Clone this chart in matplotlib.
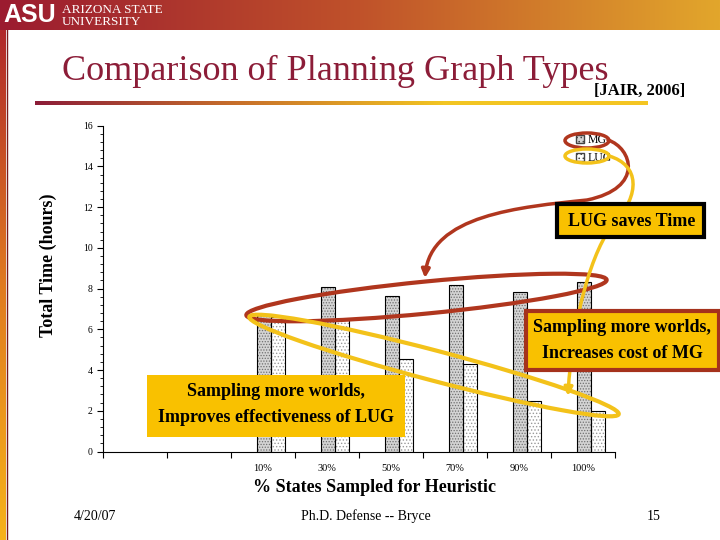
import numpy as np
import matplotlib
matplotlib.use('Agg')
import matplotlib.pyplot as plt
from matplotlib.patches import Ellipse, Rectangle, Patch, FancyArrowPatch
from matplotlib.path import Path
from matplotlib.colors import LinearSegmentedColormap
from matplotlib.ticker import MultipleLocator, FixedLocator

# data
categories = ['10%', '30%', '50%', '70%', '90%', '100%']
mg_time = [6.75, 8.1, 7.65, 8.2, 7.85, 8.3]
lug_time = [6.6, 6.45, 4.55, 4.3, 2.5, 2.0]

RED = '#b0361e'
YEL = '#f3c21a'
BOX = '#f9c100'
MAROON = '#8c1d38'

plt.rcParams['font.family'] = ['Liberation Serif', 'DejaVu Serif']
plt.rcParams['hatch.linewidth'] = 0.6

fig = plt.figure(figsize=(7.2, 5.4), dpi=100)
fig.patch.set_facecolor('white')

# chart axes (pixel box 103..615 x 126..451)
ax = fig.add_axes([103/720, 1-451.5/540, 512/720, 325.8/540])
x = np.arange(len(categories))
ax.bar(x + 0.51, mg_time, 0.22, color='#d4d4d4', hatch='......', edgecolor='#707070', linewidth=0, zorder=2)
ax.bar(x + 0.51, mg_time, 0.22, fill=False, edgecolor='black', linewidth=0.8, zorder=3)
ax.bar(x + 0.735, lug_time, 0.21, color='white', hatch='.....', edgecolor='#9a9a9a', linewidth=0, zorder=2)
ax.bar(x + 0.735, lug_time, 0.21, fill=False, edgecolor='black', linewidth=0.8, zorder=3)

ax.set_xlim(-2, len(categories))
ax.set_ylim(0, 16)
ax.spines['top'].set_visible(False)
ax.spines['right'].set_visible(False)
ax.yaxis.set_major_locator(MultipleLocator(2))
ax.yaxis.set_minor_locator(MultipleLocator(0.4))
ax.xaxis.set_major_locator(FixedLocator(np.arange(-2, len(categories) + 1)))
ax.xaxis.set_minor_locator(FixedLocator(x + 0.5))
ax.xaxis.set_major_formatter(plt.NullFormatter())
ax.set_xticklabels(categories, minor=True)
ax.tick_params(axis='x', which='minor', length=0, labelsize=7.5, pad=9)
ax.tick_params(axis='x', which='major', length=4)
ax.tick_params(axis='y', which='major', length=4, labelsize=7)
ax.tick_params(axis='y', which='minor', length=2)
ax.set_ylabel('Total Time (hours)', fontsize=13, fontweight='bold')
ax.yaxis.set_label_coords(-0.09, 0.572)
ax.set_xlabel('% States Sampled for Heuristic', fontsize=13, fontweight='bold')
ax.xaxis.set_label_coords(0.531, -0.085)

handles = [Patch(facecolor='#d4d4d4', hatch='....', edgecolor='#444444', label='MG'),
           Patch(facecolor='white', hatch='....', edgecolor='#444444', label='LUG')]
ax.legend(handles=handles, loc='upper left', bbox_to_anchor=(576/720, 1-134/540),
          bbox_transform=fig.transFigure, frameon=False, fontsize=8.5,
          handlelength=0.7, handleheight=0.7, handletextpad=0.3,
          labelspacing=0.55, borderpad=0, borderaxespad=0)

# overlay in pixel coordinates for slide decoration
ov = fig.add_axes([0, 0, 1, 1], zorder=5)
ov.patch.set_alpha(0)

head = LinearSegmentedColormap.from_list('head', ['#9b1b30', '#c0522a', '#e2a62c'])
ov.imshow(np.linspace(0, 1, 256)[None, :], cmap=head, extent=(0, 720, 30, 0), aspect='auto')
side = LinearSegmentedColormap.from_list('side', ['#b0282a', '#e07a20', '#f7b21a'])
ov.imshow(np.linspace(0, 1, 256)[:, None], cmap=side, extent=(0, 6, 540, 30), aspect='auto')
ov.plot([6.5, 6.5], [30, 540], color='#7a1a1a', lw=1)
uline = LinearSegmentedColormap.from_list('uline', ['#8c1d38', '#c8702a', '#f2c522', '#f5c622'])
ov.imshow(np.linspace(0, 1, 256)[None, :], cmap=uline, extent=(35, 648, 105, 101), aspect='auto')

ov.text(3, 15, 'ASU', color='white', fontsize=18, fontweight='heavy',
        family='Liberation Sans', va='center', ha='left')
ov.text(62, 10, 'ARIZONA STATE', color='white', fontsize=9.5, va='center', ha='left')
ov.text(62, 22, 'UNIVERSITY', color='white', fontsize=9.5, va='center', ha='left')

ov.text(335, 80, 'Comparison of Planning Graph Types', color=MAROON, fontsize=26,
        ha='center', va='baseline')
ov.text(640, 95, '[JAIR, 2006]', fontsize=12, fontweight='bold', ha='center', va='baseline')

# ellipses
ov.add_patch(Ellipse((426.5, 297.5), 362, 32, angle=np.degrees(np.arctan2(280-315, 605-248)),
                     fill=False, edgecolor=RED, lw=3))
ov.add_patch(Ellipse((434, 365.5), 382, 30, angle=np.degrees(np.arctan2(414-317, 618-250)),
                     fill=False, edgecolor=YEL, lw=3))
ov.add_patch(Ellipse((587, 140.5), 44, 15, fill=False, edgecolor=RED, lw=2.5))
ov.add_patch(Ellipse((587, 156), 44, 14, fill=False, edgecolor=YEL, lw=2.5))

# curved arrows from legend
red_path = Path([(608, 140), (632, 148), (645, 188), (587, 200),
                 (520, 207), (430, 215), (425, 278)],
                [Path.MOVETO, Path.CURVE4, Path.CURVE4, Path.CURVE4,
                 Path.CURVE4, Path.CURVE4, Path.CURVE4])
ov.add_patch(FancyArrowPatch(path=red_path, arrowstyle='-|>', mutation_scale=12,
                             color=RED, lw=2.5))
yel_path = Path([(609, 156), (640, 165), (640, 195), (615, 222),
                 (592, 248), (572, 320), (568, 396)],
                [Path.MOVETO, Path.CURVE4, Path.CURVE4, Path.CURVE4,
                 Path.CURVE4, Path.CURVE4, Path.CURVE4])
ov.add_patch(FancyArrowPatch(path=yel_path, arrowstyle='-|>', mutation_scale=12,
                             color=YEL, lw=2.5))

# callout boxes
ov.add_patch(Rectangle((557, 204), 147, 33, facecolor=BOX, edgecolor='black', lw=3, zorder=6))
ov.text(632, 221, 'LUG saves Time', fontsize=13, fontweight='bold', ha='center', va='center', zorder=7)
ov.add_patch(Rectangle((526, 311), 193, 59, facecolor=BOX, edgecolor='#a5321c', lw=3, zorder=6))
ov.text(622, 327, 'Sampling more worlds,', fontsize=13, fontweight='bold', ha='center', va='center', zorder=7)
ov.text(622, 353, 'Increases cost of MG', fontsize=13, fontweight='bold', ha='center', va='center', zorder=7)
ov.add_patch(Rectangle((147, 375), 258, 62, facecolor=BOX, edgecolor='none', zorder=6))
ov.text(276, 392, 'Sampling more worlds,', fontsize=13, fontweight='bold', ha='center', va='center', zorder=7)
ov.text(276, 418, 'Improves effectiveness of LUG', fontsize=13, fontweight='bold', ha='center', va='center', zorder=7)

# footer
ov.text(95, 516, '4/20/07', fontsize=10, ha='center', va='center')
ov.text(366, 516, 'Ph.D. Defense -- Bryce', fontsize=10, ha='center', va='center')
ov.text(654, 516, '15', fontsize=10, ha='center', va='center')

ov.set_xlim(0, 720)
ov.set_ylim(540, 0)
ov.axis('off')

fig.savefig('out.png', dpi=100)
